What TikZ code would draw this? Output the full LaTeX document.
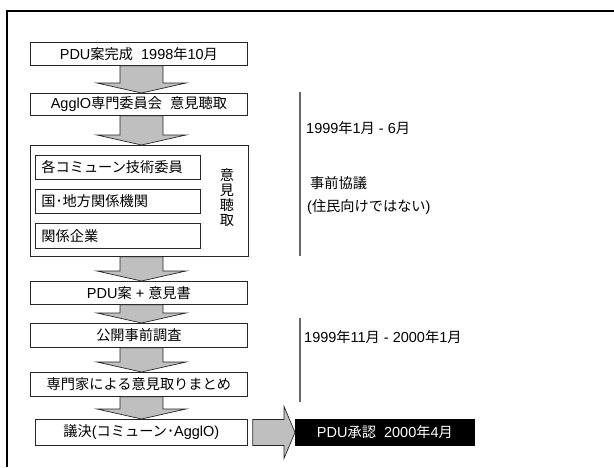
\documentclass[tikz,border=0pt]{standalone}
\usepackage{fontspec}
\setmainfont{Liberation Sans}
\newfontfamily\jpfont[Scale=0.98]{Noto Sans CJK JP}
\newcommand\jj[1]{{\jpfont #1}}
\usetikzlibrary{calc}
\tikzset{
  box/.style={draw=black!85, line width=0.8pt, fill=white, inner sep=0pt, anchor=north west, font=\fontsize{14.5}{15}\selectfont},
  lbox/.style={box, text width=#1, align=left, inner xsep=6pt},
  garrow/.style={draw=black!85, line width=0.7pt, fill=gray!50},
  vline/.style={draw=black!60, line width=1.2pt},
  side/.style={anchor=west, inner sep=0pt, font=\fontsize{14.5}{15}\selectfont},
}
\newcommand\dnarrow[2]{%
  \draw[garrow] let \p1=(#1.south), \p2=(#2.north) in
   (120,\y1) -- (163,\y1) -- (163,\y2+10pt) -- (186,\y2+10pt) -- (141.5,\y2)
   -- (97,\y2+10pt) -- (120,\y2+10pt) -- cycle;}
\begin{document}
\begin{tikzpicture}[x=1pt,y=-1pt]
\useasboundingbox (0,0) rectangle (614,467);
% frame
\draw[line width=2pt] (7,467) -- (7,10.5) -- (614,10.5);
% boxes
\node[box, minimum width=217, minimum height=23] (b1) at (30,42) {PDU\jj{案完成}\ \ 1998\jj{年}10\jj{月}};
\node[box, minimum width=217, minimum height=22] (b2) at (30,93) {AgglO\jj{専門委員会}\ \ \jj{意見聴取}};
\node[box, minimum width=218, minimum height=111] (big) at (30,145) {};
\node[lbox=153, minimum height=24] (ia) at (35,155) {\jj{各コミューン技術委員}};
\node[lbox=153, minimum height=24] (ib) at (35,189) {\jj{国･地方関係機関}};
\node[lbox=153, minimum height=25] (ic) at (35,223) {\jj{関係企業}};
\node[align=center, inner sep=0pt, font=\fontsize{14.5}{15}\selectfont\jpfont] (vt) at (227,198) {意\\見\\聴\\取};
\node[box, minimum width=217, minimum height=23] (b4) at (30,281) {PDU\jj{案} + \jj{意見書}};
\node[box, minimum width=217, minimum height=24] (b5) at (30,323) {\jj{公開事前調査}};
\node[box, minimum width=217, minimum height=24] (b6) at (30,372) {\jj{専門家による意見取りまとめ}};
\node[box, minimum width=212, minimum height=26] (b7) at (35,419) {\jj{議決}(\jj{コミューン･}AgglO)};
\node[box, draw=black, fill=black, text=white, minimum width=179, minimum height=26] (fin) at (295,419) {PDU\jj{承認}\ \ 2000\jj{年}4\jj{月}};
% down arrows
\dnarrow{b1}{b2}
\dnarrow{b2}{big}
\dnarrow{big}{b4}
\dnarrow{b4}{b5}
\dnarrow{b5}{b6}
\dnarrow{b6}{b7}
% right arrow
\draw[garrow] let \p1=(b7.east), \p2=(fin.west) in
  (\x1+5pt,\y2+13pt) -- (\x2-11pt,\y2+13pt) -- (\x2-11pt,\y2+26pt) -- (\x2,\y2)
  -- (\x2-11pt,\y2-26pt) -- (\x2-11pt,\y2-13pt) -- (\x1+5pt,\y2-13pt) -- cycle;
% side lines and texts
\draw[vline] (300,92) -- (300,256);
\draw[vline] (300,318) -- (300,402);
\node[side] (t1) at (306,128) {1999\jj{年}1\jj{月} - 6\jj{月}};
\node[side] (t2) at (310,183) {\jj{事前協議}};
\node[side] (t3) at (307,207) {(\jj{住民向けではない})};
\node[side] (t4) at (304,337) {1999\jj{年}11\jj{月} - 2000\jj{年}1\jj{月}};
\end{tikzpicture}
\end{document}
